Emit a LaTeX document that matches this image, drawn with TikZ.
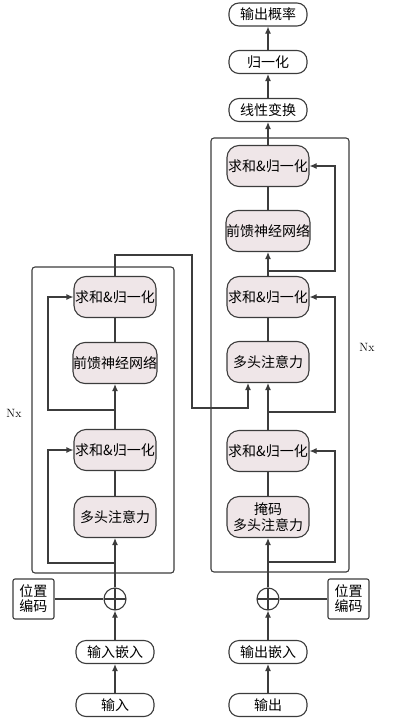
\documentclass[tikz,border=0pt]{standalone}
\usepackage{fontspec}
\newfontfamily\cjk{Noto Sans CJK SC}
\usepackage{tikz}
\usetikzlibrary{arrows.meta,positioning}

\definecolor{blockfill}{HTML}{EFE6E8}
\definecolor{linegray}{HTML}{3C3C3C}

\begin{document}
\begin{tikzpicture}[
    x=1pt, y=-1pt,
    line width=1.1pt, draw=linegray,
    block/.style = {rectangle, rounded corners=12pt, draw=linegray,
                    fill=blockfill, minimum width=82pt, minimum height=41pt,
                    inner sep=0pt, align=center, font=\cjk\fontsize{14}{16}\selectfont},
    io/.style = {rectangle, rounded corners=10pt, draw=linegray, fill=white,
                 minimum width=78pt, minimum height=23pt, inner sep=0pt,
                 font=\cjk\fontsize{14}{16}\selectfont},
    posbox/.style = {rectangle, rounded corners=2pt, draw=linegray, fill=white,
                     minimum width=41pt, minimum height=40pt, inner sep=0pt,
                     align=center, font=\cjk\fontsize{14}{15}\selectfont},
    addnode/.style = {circle, draw=linegray, minimum size=22pt, inner sep=0pt,
                      path picture={\draw[linegray]
                        (path picture bounding box.north) -- (path picture bounding box.south)
                        (path picture bounding box.west) -- (path picture bounding box.east);}},
    arrow/.style = {-{Latex[length=7pt,width=6pt]}, linegray}
  ]
    \useasboundingbox (0,0) rectangle (414,723);
    % frames of the stacks
    \draw[rounded corners=3pt] (32,267) rectangle (174,573);
    \draw[rounded corners=3pt] (211,138) rectangle (349,572);
    % encoder
    \node[io]     (ein)  at (115,705) {输入};
    \node[io]     (eemb) at (115,652) {输入嵌入};
    \node[addnode](eadd) at (115,599) {};
    \node[posbox] (epe)  at (33.5,599) {位置\\编码};
    \node[block]  (emha) at (115,517) {多头注意力};
    \node[block]  (ean1) at (115,450) {求和\&归一化};
    \node[block]  (eff)  at (115,363) {前馈神经网络};
    \node[block]  (ean2) at (115,297) {求和\&归一化};
    % decoder
    \node[io]     (din)  at (268,705) {输出};
    \node[io]     (demb) at (268,652) {输出嵌入};
    \node[addnode](dadd) at (268,599) {};
    \node[posbox] (dpe)  at (348.5,599) {位置\\编码};
    \node[block]  (dmmha) at (268,517) {掩码\\多头注意力};
    \node[block]  (dan1) at (268,451) {求和\&归一化};
    \node[block]  (dmha) at (268,362) {多头注意力};
    \node[block]  (dan2) at (268,297) {求和\&归一化};
    \node[block]  (dff)  at (268,231) {前馈神经网络};
    \node[block]  (dan3) at (268,166) {求和\&归一化};
    \node[io]     (lin)  at (268,110) {线性变换};
    \node[io]     (norm) at (268,62)  {归一化};
    \node[io]     (prob) at (268,14.5) {输出概率};
    \node[font=\fontsize{12}{14}\selectfont] (enx) at (14,413) {Nx};
    \node[font=\fontsize{12}{14}\selectfont] (dnx) at (367,347) {Nx};
    % branch points
    \coordinate (eb1) at (115,563);
    \coordinate (eb2) at (115,410);
    \coordinate (db1) at (268,562);
    \coordinate (db2) at (268,412);
    \coordinate (db3) at (268,271);
    \coordinate (ex)  at (248,408);
    % encoder flow
    \draw[arrow] (ein) -- (eemb);
    \draw[arrow] (eemb) -- (eadd);
    \draw (epe) -- (eadd);
    \draw[arrow] (eadd) -- (emha);
    \draw (emha) -- (ean1);
    \draw[arrow] (ean1) -- (eff);
    \draw (eff) -- (ean2);
    \draw[arrow] (eb1) -- (48,563) |- (ean1.west);
    \draw[arrow] (eb2) -- (48,410) |- (ean2.west);
    % decoder flow
    \draw[arrow] (din) -- (demb);
    \draw[arrow] (demb) -- (dadd);
    \draw (dpe) -- (dadd);
    \draw[arrow] (dadd) -- (dmmha);
    \draw (dmmha) -- (dan1);
    \draw[arrow] (dan1) -- (dmha);
    \draw (dmha) -- (dan2);
    \draw[arrow] (dan2) -- (dff);
    \draw (dff) -- (dan3);
    \draw[arrow] (dan3) -- (lin);
    \draw[arrow] (lin) -- (norm);
    \draw[arrow] (norm) -- (prob);
    \draw[arrow] (db1) -- (335,562) |- (dan1.east);
    \draw[arrow] (db2) -- (335,412) |- (dan2.east);
    \draw[arrow] (db3) -- (335,271) |- (dan3.east);
    % encoder output into decoder
    \draw[arrow] (ean2.north) |- (192,255) |- (ex) -- (ex |- dmha.south);
  \end{tikzpicture}
\end{document}
